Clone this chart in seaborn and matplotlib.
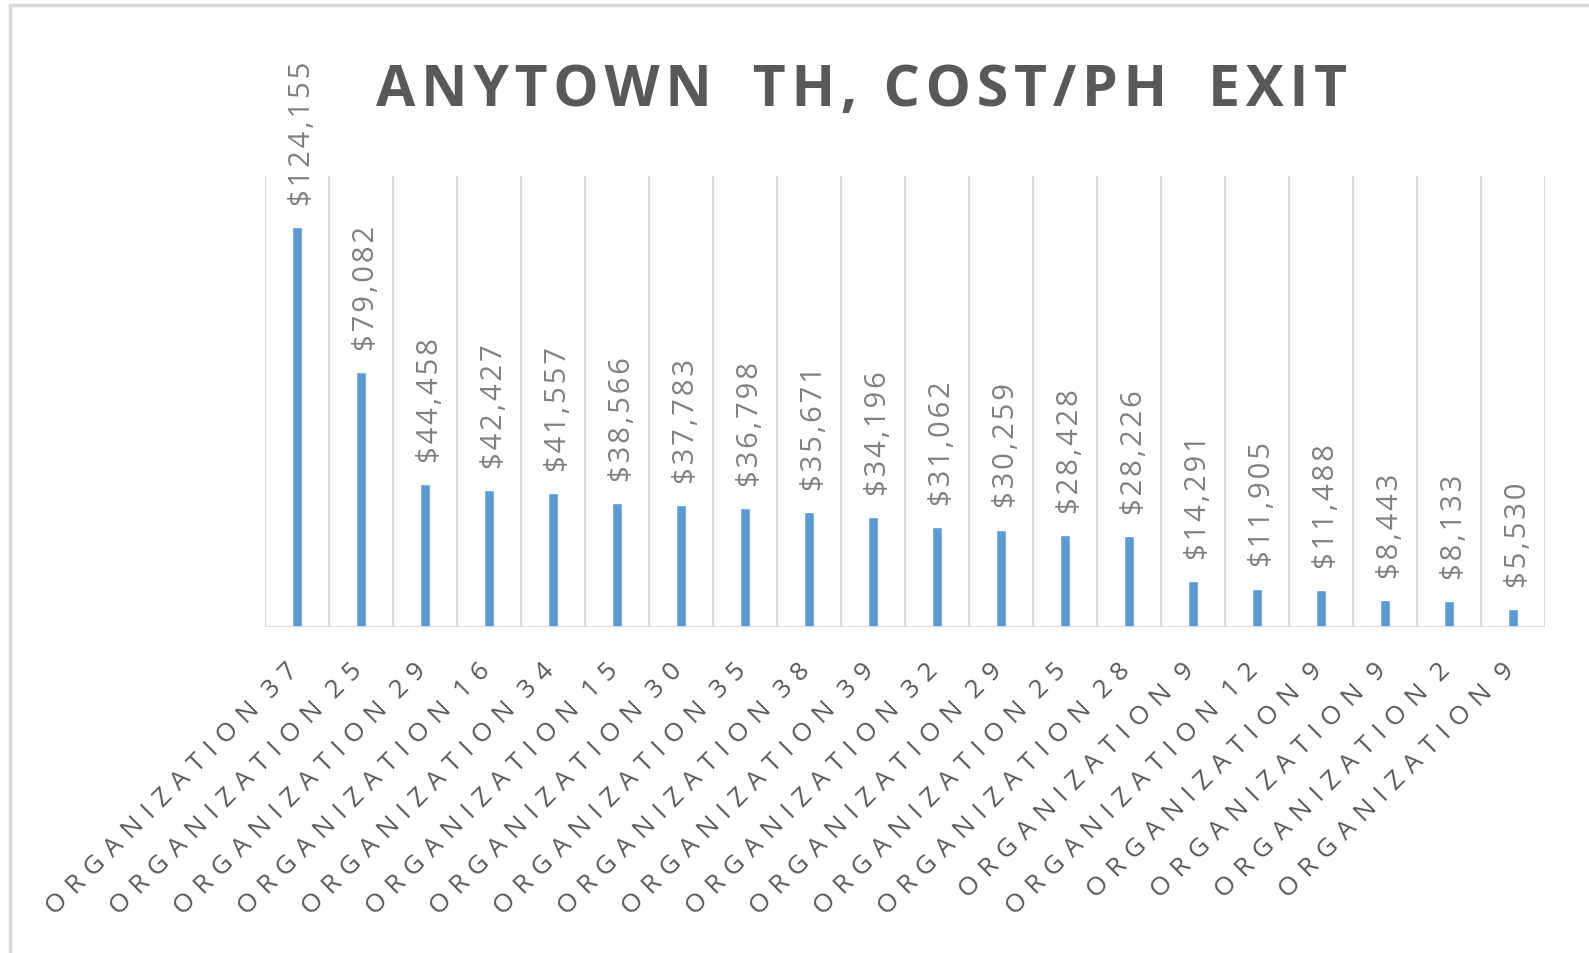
import matplotlib
matplotlib.use("Agg")
import matplotlib.pyplot as plt
import seaborn as sns
import pandas as pd
from matplotlib.lines import Line2D
from matplotlib.transforms import ScaledTranslation

# values
organizations = [
    "ORGANIZATION 37", "ORGANIZATION 25", "ORGANIZATION 29", "ORGANIZATION 16",
    "ORGANIZATION 34", "ORGANIZATION 15", "ORGANIZATION 30", "ORGANIZATION 35",
    "ORGANIZATION 38", "ORGANIZATION 39", "ORGANIZATION 32", "ORGANIZATION 29",
    "ORGANIZATION 25", "ORGANIZATION 28", "ORGANIZATION 9", "ORGANIZATION 12",
    "ORGANIZATION 9", "ORGANIZATION 9", "ORGANIZATION 2", "ORGANIZATION 9",
]
cost_per_exit = [
    124155, 79082, 44458, 42427, 41557, 38566, 37783, 36798, 35671, 34196,
    31062, 30259, 28428, 28226, 14291, 11905, 11488, 8443, 8133, 5530,
]

title = "ANYTOWN  TH, COST/PH  EXIT"
bar_color = "#5B9BD5"
grid_color = "#D9D9D9"
text_dark = "#595959"
text_light = "#808080"


def configure_plot_settings():
    sns.set_style("white")
    plt.rcParams['font.family'] = ['Open Sans', 'DejaVu Sans']


def tracked(s, sp="\u2009", word_sp=None):
    """Widen letter spacing like the Excel chart style does"""
    if word_sp is None:
        word_sp = sp
    out = ""
    for a, b in zip(s, s[1:]):
        if a == " " and b == " ":
            gap = ""
        elif a == " " or b == " ":
            gap = word_sp
        else:
            gap = sp
        out += a + gap
    return out + s[-1]


def main():
    configure_plot_settings()

    df = pd.DataFrame({
        "pos": range(len(organizations)),
        "org": organizations,
        "cost": cost_per_exit,
    })

    fig = plt.figure(figsize=(15.89, 9.54), dpi=100)
    ax = fig.add_axes([0.1668, 0.3417, 0.9723 - 0.1668, 0.8145 - 0.3417])

    sns.barplot(data=df, x="pos", y="cost", color=bar_color, width=0.17,
                saturation=1, ax=ax)

    ax.set_ylim(0, 140000)
    ax.set_xlim(-0.5, len(organizations) - 0.5)
    ax.set_yticks([])
    ax.set_xlabel("")
    ax.set_ylabel("")

    # vertical separators between categories
    for b in range(len(organizations) + 1):
        ax.axvline(b - 0.5, color=grid_color, linewidth=1.5, zorder=0)
    ax.axhline(0, color=grid_color, linewidth=2, zorder=1)

    for s in ax.spines.values():
        s.set_visible(False)

    # value labels
    for i, v in enumerate(cost_per_exit):
        ax.annotate(tracked(f"${v:,}", "\u200a"), (i, v), xytext=(4, 16),
                    textcoords="offset points", rotation=90, ha="center",
                    va="bottom", fontsize=21, color=text_light)

    ax.set_xticks(range(len(organizations)))
    ax.set_xticklabels([tracked(o, "\u2009\u2009", "\u2009") for o in organizations],
                       rotation=45, ha="right", rotation_mode="anchor",
                       fontsize=19, color=text_dark)
    ax.tick_params(axis="x", length=0, pad=22)
    shift = ScaledTranslation(-8 / 72, 0, fig.dpi_scale_trans)
    for lab in ax.get_xticklabels():
        lab.set_transform(lab.get_transform() + shift)

    fig.text(0.542, 0.905, tracked(title, "\u200a"), ha="center", va="center",
             fontsize=41, fontweight="bold", color=text_dark)

    # frame of the screenshot (left and top edges)
    fig.add_artist(Line2D([0.0063, 0.0063], [0, 0.9937], transform=fig.transFigure,
                          color=grid_color, linewidth=2.5))
    fig.add_artist(Line2D([0.0063, 1], [0.9937, 0.9937], transform=fig.transFigure,
                          color=grid_color, linewidth=2.5))

    fig.savefig("out.png", dpi=100)
    plt.close(fig)


if __name__ == "__main__":
    main()
